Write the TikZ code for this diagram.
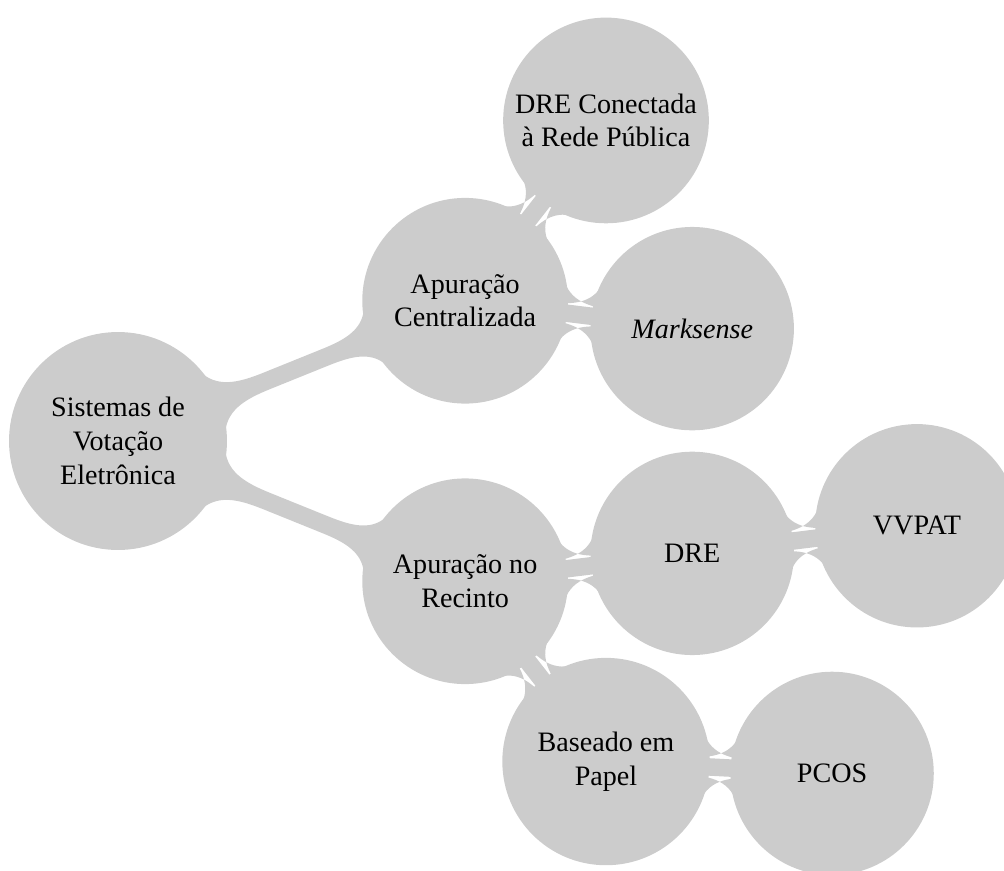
\documentclass[tikz,border=0pt]{standalone}
\usepackage{fontspec}
\setmainfont{Liberation Serif}
\usetikzlibrary{mindmap}

\begin{document}
\begin{tikzpicture}[
                mindmap,
                concept color=black!20,
                every concept/.append style={font=\normalsize,text width=2.35cm,inner sep=1pt,minimum size=2.5cm,align=flush center},
                root concept/.append style={font=\normalsize,text width=2.35cm,inner sep=1pt,minimum size=2.5cm,align=flush center},
                level 1 concept/.append style={font=\normalsize,text width=2.35cm,inner sep=1pt,minimum size=2.5cm,align=flush center},
                level 2 concept/.append style={font=\normalsize,text width=2.35cm,inner sep=1pt,minimum size=2.5cm,align=flush center},
                level 3 concept/.append style={font=\normalsize,text width=2.35cm,inner sep=1pt,minimum size=2.5cm,align=flush center},
                level 1/.append style={level distance=4.68cm},
                level 2/.append style={level distance=2.86cm},
                level 3/.append style={level distance=2.83cm}
            ]
            \useasboundingbox (-1.475,-5.3625) rectangle (11.075,5.5125);

            \node[concept] (root) {Sistemas de Votação Eletrônica}
            child[grow=22.5] {node[concept] (central) {Apuração Centralizada}
                    child[grow=52.5] {node[concept] (drepublica) {DRE Conectada à Rede Pública}}
                    child[grow=-7.5] {node[concept] (marksense) {\textit{Marksense}}}
                }
            child[grow=-22.5] {node[concept] (recinto) {Apuração no Recinto}
                    child[grow=7.5] {node[concept] (dre) {DRE}
                            child[grow=7.5] {node[concept] (vvpat) {VVPAT}}
                        }
                    child[grow=-52.5] {node[concept] (papel) {Baseado em Papel}
                            child[grow=-3] {node[concept] (pcos) {PCOS}}
                        }
                };

\end{tikzpicture}
\end{document}
